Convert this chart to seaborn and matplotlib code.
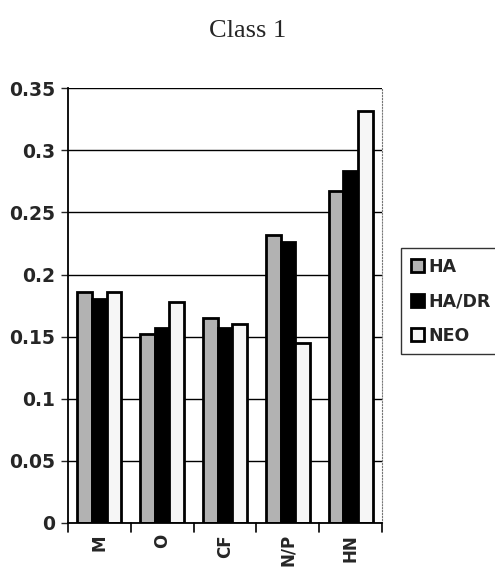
import matplotlib
matplotlib.use("Agg")
import matplotlib.pyplot as plt
import seaborn as sns
import pandas as pd

categories = ["M", "O", "CF", "N/P", "HN"]
series = ["HA", "HA/DR", "NEO"]
ha = [0.186, 0.152, 0.165, 0.232, 0.267]
ha_dr = [0.180, 0.157, 0.157, 0.226, 0.283]
neo = [0.186, 0.178, 0.160, 0.145, 0.332]
yticks = [0, 0.05, 0.1, 0.15, 0.2, 0.25, 0.3, 0.35]
ytick_labels = ["0", "0.05", "0.1", "0.15", "0.2", "0.25", "0.3", "0.35"]

rows = []
for s, vals in zip(series, [ha, ha_dr, neo]):
    for c, v in zip(categories, vals):
        rows.append({"cat": c, "series": s, "value": v})
df = pd.DataFrame(rows)

sns.set_style("white")
plt.rcParams['font.family'] = ['DejaVu Sans']

fig = plt.figure(figsize=(4.95, 5.69), dpi=100)
ax = fig.add_axes([0.137, 0.081, 0.635, 0.764])

colors = {"HA": "#b2b2b2", "HA/DR": "#000000", "NEO": "#f6f6f6"}
sns.barplot(data=df, x="cat", y="value", hue="series", order=categories,
            hue_order=series, palette=colors, ax=ax, width=0.7,
            edgecolor="black", linewidth=2, saturation=1, legend=True)

ax.set_ylim(0, 0.35)
ax.set_xlim(-0.5, 4.5)
ax.set_yticks(yticks)
ax.set_yticklabels(ytick_labels, fontsize=13.5, fontweight="bold")
ax.set_xticks(range(len(categories)))
ax.set_xticklabels(categories, rotation=90, fontsize=12, fontweight="bold",
                   va="top")
ax.tick_params(axis="x", length=0, pad=8)
ax.tick_params(axis="y", length=5, direction="out", left=True, width=1, pad=4)
ax.set_xlabel("")
ax.set_ylabel("")
ax.yaxis.grid(True, color="black", linewidth=1)
ax.set_axisbelow(True)
for sp in ["left", "bottom"]:
    ax.spines[sp].set_color("black")
    ax.spines[sp].set_linewidth(1.3)
ax.spines["top"].set_visible(False)
ax.spines["right"].set_color("#777777")
ax.spines["right"].set_linestyle(":")

# separators between categories on the x axis
for xb in [-0.5, 0.5, 1.5, 2.5, 3.5, 4.5]:
    ax.plot([xb, xb], [0, -0.007], color="black", lw=1.2, clip_on=False)

leg = ax.legend(loc="upper left", bbox_to_anchor=(1.06, 0.632), frameon=True,
                fancybox=False, edgecolor="black", fontsize=12.5,
                handlelength=0.75, handleheight=0.75, handletextpad=0.25,
                borderpad=0.55, labelspacing=0.95, borderaxespad=0)
for t in leg.get_texts():
    t.set_fontweight("bold")
leg.get_frame().set_linewidth(1)

fig.text(0.50, 0.945, "Class 1", ha="center", va="center", fontsize=19,
         family=["Liberation Serif", "DejaVu Serif"])

fig.savefig("out.png", dpi=100, facecolor="white")
